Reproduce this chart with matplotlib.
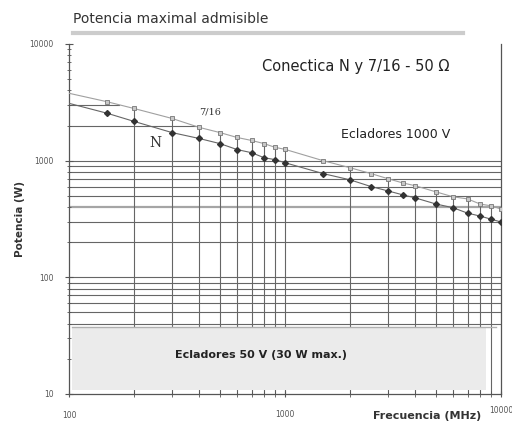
import matplotlib
matplotlib.use("Agg")
import matplotlib.pyplot as plt
from matplotlib.patches import Rectangle

# frequencies (MHz) of the marked points
freq = [150, 200, 300, 400, 500, 600, 700, 800, 900, 1000,
        1500, 2000, 2500, 3000, 3500, 4000, 5000, 6000, 7000, 8000, 9000, 10000]
p_716 = [3200, 2800, 2300, 1930, 1740, 1580, 1490, 1400, 1300, 1250,
         1000, 870, 775, 700, 645, 610, 540, 490, 470, 425, 410, 385]
p_n = [2550, 2170, 1740, 1550, 1400, 1245, 1170, 1060, 1020, 960,
       775, 685, 600, 550, 510, 480, 425, 395, 355, 335, 315, 298]
# value where each trend line meets the 100 MHz axis
p_716_start = 3780
p_n_start = 3100

# frequencies with drop lines down to the x axis
drop_freq = [200, 300, 400, 500, 600, 700, 800, 900, 1000,
             2000, 3000, 4000, 5000, 6000, 7000, 8000, 9000]
hgrid = [40, 50, 60, 70, 80, 90, 100, 200, 300, 400, 500, 600, 700, 800, 900, 1000]

fig = plt.figure(figsize=(5.12, 4.23), dpi=100)
ax = fig.add_axes([0.1348, 0.0686, 0.8437, 0.8274])
ax.set_xscale("log")
ax.set_yscale("log")
ax.set_xlim(100, 10000)
ax.set_ylim(10, 10000)

grid_c = "#666666"
for h in hgrid:
    lw = 1.6 if h == 400 else 0.8
    col = "#a5a5a5" if h == 400 else grid_c
    ax.plot([100, 10000], [h, h], color=col, lw=lw, zorder=1)
ax.plot([100, 400], [2000, 2000], color=grid_c, lw=0.8, zorder=1)
ax.plot([100, 170], [3000, 3000], color=grid_c, lw=0.8, zorder=1)

top = dict(zip(freq, p_716))
for f in drop_freq:
    ax.plot([f, f], [10, top[f]], color=grid_c, lw=0.8, zorder=1)

# gray band for 50 V dischargers
ax.add_patch(Rectangle((103, 10.9), 8400, 26.5, facecolor="#ebebeb",
                       edgecolor="none", zorder=2))
ax.plot([103, 9500], [37.4, 37.4], color="#b0b0b0", lw=1.0, zorder=2)

ax.plot([100] + freq, [p_716_start] + p_716, color="#a0a0a0", lw=0.8, zorder=3)
ax.plot([100] + freq, [p_n_start] + p_n, color="#666666", lw=0.8, zorder=3)
ax.plot(freq, p_716, ls="none", marker="s", ms=3, mfc="#c8c8c8",
        mec="#777777", mew=0.6, zorder=4)
ax.plot(freq, p_n, ls="none", marker="D", ms=3, color="#333333", zorder=4)

ax.spines["top"].set_visible(False)
for s in ["left", "bottom", "right"]:
    ax.spines[s].set_color("#555555")
    ax.spines[s].set_linewidth(0.9)

ax.set_xticks([100, 1000, 10000])
ax.set_xticklabels([])
ax.set_yticks([10, 100, 1000, 10000])
ax.set_yticklabels(["10", "100", "1000", "10000"], fontsize=5.5, color="#555555")
ax.tick_params(axis="both", which="both", direction="inout", color="#555555")
ax.tick_params(axis="y", which="major", length=6, pad=8)
ax.tick_params(axis="y", which="minor", length=3)
ax.tick_params(axis="x", which="both", length=5)

ax.text(100, 6.2, "100", fontsize=5.5, color="#555555", ha="center")
ax.text(1000, 6.3, "1000", fontsize=5.5, color="#555555", ha="center")
ax.text(10000, 6.9, "10000", fontsize=5.5, color="#555555", ha="center")
fig.text(0.835, 0.005, "Frecuencia (MHz)", fontsize=8, weight="bold",
         color="#333333", ha="center", va="bottom")
ax.set_ylabel("Potencia (W)", fontsize=7.5, weight="bold", color="#333333", labelpad=3)

fig.text(0.143, 0.945, "Potencia maximal admisible", fontsize=10, color="#333333")
fig.add_artist(plt.Line2D([0.143, 0.905], [0.922, 0.922], color="#cccccc", lw=3))

ax.text(786, 5900, "Conectica N y 7/16 - 50 \u03a9", fontsize=10.5, color="#222222")
ax.text(450, 2500, "7/16", fontsize=7, color="#333333", ha="center",
        family="DejaVu Serif")
ax.text(251, 1300, "N", fontsize=10, color="#333333", ha="center",
        family="DejaVu Serif")
ax.text(1807, 1550, "Ecladores 1000 V", fontsize=9, color="#222222")
ax.text(778, 21.6, "Ecladores 50 V (30 W max.)", fontsize=8, weight="bold",
        color="#222222", ha="center", va="center")

fig.savefig("out.png", dpi=100)
